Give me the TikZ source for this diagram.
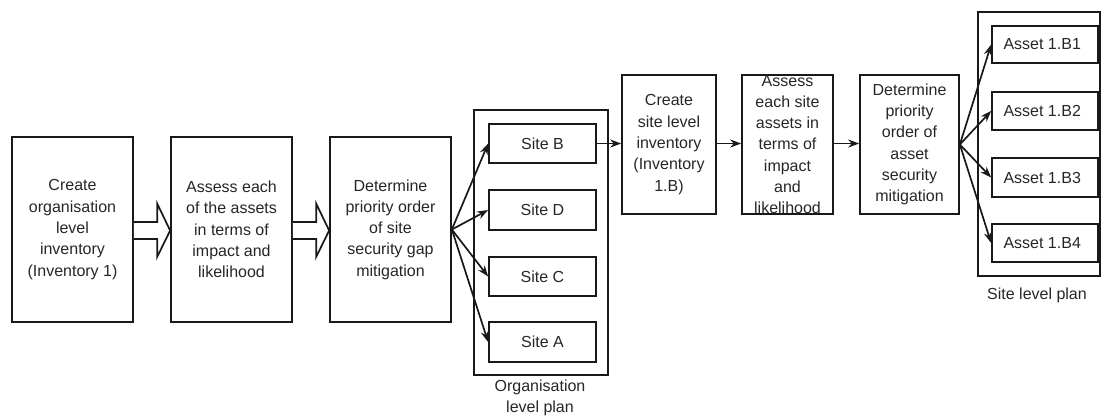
\documentclass[tikz,border=0pt]{standalone}
\usepackage{fontspec}
\setmainfont{Liberation Sans}
\usetikzlibrary{arrows.meta,calc}
\begin{document}
\begin{tikzpicture}[x=1pt,y=-1pt,
  every node/.style={font=\fontsize{16}{21.3}\selectfont, text=black!85},
  box/.style={draw=black!90, line width=1.7pt, align=center, inner sep=0pt},
  frame/.style={draw=black!90, line width=1.7pt, inner sep=0pt},
  arr/.style={draw=black!90, line width=1.7pt, -{Stealth[length=11pt,width=8pt]}},
  blockarrow/.style={draw=black!90, line width=1.7pt, fill=white, line join=miter}
]
\useasboundingbox (0,0) rectangle (1102,416);

% first row of big boxes
\node[box, minimum width=121pt, minimum height=185pt] (b1) at (72.5,229.5)
  {Create\\organisation\\level\\inventory\\(Inventory 1)};
\node[box, minimum width=121pt, minimum height=185pt] (b2) at (231.5,229.5)
  {Assess each\\of the assets\\in terms of\\impact and\\likelihood};
\node[box, minimum width=121pt, minimum height=185pt] (b3) at (390.5,229.5)
  {Determine\\priority order\\of site\\security gap\\mitigation};

% block arrows
\draw[blockarrow]
  ($(b1.east)+(0,-7.5)$) -- ($(b2.west)+(-13,-7.5)$) -- ($(b2.west)+(-13,-26)$)
  -- ($(b2.west)+(0,1)$) -- ($(b2.west)+(-13,27.5)$) -- ($(b2.west)+(-13,9.5)$)
  -- ($(b1.east)+(0,9.5)$);
\draw[blockarrow]
  ($(b2.east)+(0,-7.5)$) -- ($(b3.west)+(-13,-7.5)$) -- ($(b3.west)+(-13,-26)$)
  -- ($(b3.west)+(0,1)$) -- ($(b3.west)+(-13,27.5)$) -- ($(b3.west)+(-13,9.5)$)
  -- ($(b2.east)+(0,9.5)$);

% organisation level plan
\node[frame, minimum width=134pt, minimum height=265pt] (org) at (541,242.5) {};
\node[box, minimum width=107pt, minimum height=39pt] (sB) at (542.5,143.5) {Site B};
\node[box, minimum width=107pt, minimum height=40pt] (sD) at (542.5,210) {Site D};
\node[box, minimum width=107pt, minimum height=39pt] (sC) at (542.5,276.5) {Site C};
\node[box, minimum width=107pt, minimum height=40pt] (sA) at (542.5,342) {Site A};
\node[align=center] (orgcap) at (540,398) {Organisation\\level plan};

\draw[arr] (b3.east) -- (sB.west);
\draw[arr] (b3.east) -- (sD.west);
\draw[arr] (b3.east) -- (sC.west);
\draw[arr] (b3.east) -- (sA.west);

% second row
\node[box, minimum width=94pt, minimum height=139pt] (b4) at (669,144.5)
  {Create\\site level\\inventory\\(Inventory\\1.B)};
\node[box, minimum width=91pt, minimum height=139pt] (b5) at (787.5,144.5)
  {Assess\\each site\\assets in\\terms of\\impact\\and\\likelihood};
\node[box, minimum width=99pt, minimum height=139pt] (b6) at (909.5,144.5)
  {Determine\\priority\\order of\\asset\\security\\mitigation};

\draw[arr] (sB.east) -- (b4.west |- sB.east);
\draw[arr] (b4.east |- sB.east) -- (b5.west |- sB.east);
\draw[arr] (b5.east |- sB.east) -- (b6.west |- sB.east);

% site level plan
\node[frame, minimum width=122pt, minimum height=264pt] (site) at (1039,144) {};
\node[box, minimum width=106pt, minimum height=37pt] (a1) at (1045,44.5) {};
\node[box, minimum width=106pt, minimum height=38pt] (a2) at (1045,111) {};
\node[box, minimum width=106pt, minimum height=39pt] (a3) at (1045,177.5) {};
\node[box, minimum width=106pt, minimum height=38pt] (a4) at (1045,243) {};
\node[anchor=west] (a1t) at (1000,44.5) {Asset 1.B1};
\node[anchor=west] (a2t) at (1000,111) {Asset 1.B2};
\node[anchor=west] (a3t) at (1000,177.5) {Asset 1.B3};
\node[anchor=west] (a4t) at (1000,243) {Asset 1.B4};
\node (sitecap) at (1037,295) {Site level plan};

\draw[arr] (b6.east) -- (a1.west);
\draw[arr] (b6.east) -- (a2.west);
\draw[arr] (b6.east) -- (a3.west);
\draw[arr] (b6.east) -- (a4.west);
\end{tikzpicture}
\end{document}
